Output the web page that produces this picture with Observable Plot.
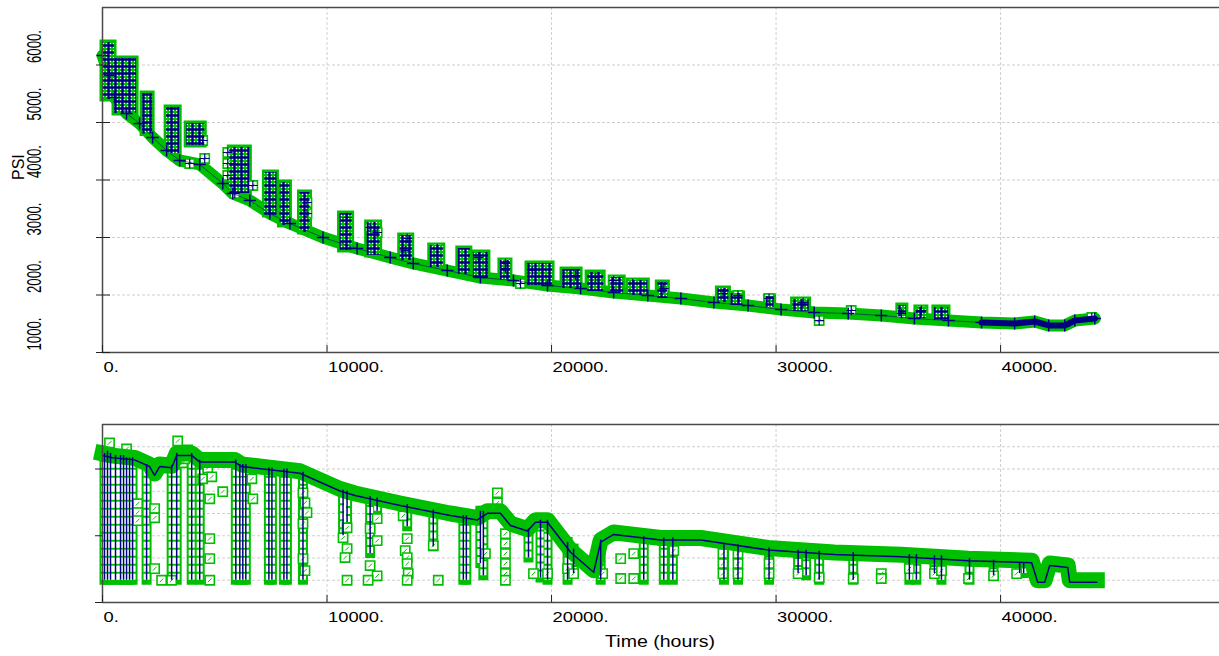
<!DOCTYPE html>
<html>
<head>
<meta charset="utf-8">
<script src="https://cdn.jsdelivr.net/npm/d3@7"></script>
<script src="https://cdn.jsdelivr.net/npm/@observablehq/plot@0.6"></script>
<style>
html, body { margin: 0; padding: 0; background: #fff; overflow: hidden; }
body { width: 1219px; height: 656px; position: relative; font-family: "Liberation Sans", Arial, sans-serif; }
#top, #bottom { line-height: 0; }
#top svg, #bottom svg { display: block; }
#xlabel { position: absolute; left: 102px; width: 1117px; top: 632px; text-align: center; font-size: 16px; line-height: 20px; color: #000; }
#xlabel span { display: inline-block; transform: scaleX(1.22); }
</style>
</head>
<body>
<svg width="0" height="0" style="position:absolute">
  <defs>
    <pattern id="spk" width="7" height="7" patternUnits="userSpaceOnUse">
      <rect width="7" height="7" fill="#ffffff"/>
      <rect x="0.5" y="0.5" width="6" height="6" fill="none" stroke="#00bf00" stroke-width="1"/>
      <path d="M3.5 0V7M0 3.5H7" stroke="#000080" stroke-width="2.4"/>
    </pattern>
  </defs>
</svg>
<div id="top"></div>
<div id="bottom"></div>
<div id="xlabel"><span>Time (hours)</span></div>
<script>
// ---------- axes / ticks ----------
const xDomain = [0, 49750];
const xTicks = [0, 10000, 20000, 30000, 40000];
const yDomainTop = [1000, 7000];
const yTicksTop = [1000, 2000, 3000, 4000, 5000, 6000];
const yGridTop = [2000, 3000, 4000, 5000, 6000];
const yDomainBot = [0, 8];
const yTicksBot = [0, 3, 6];
const yGridBot = [1, 2, 3, 4, 5, 6, 7];

// ---------- top panel: pressure trend ----------
const trendHours = [0,312,536,1071,1652,2232,2857,3437,4330,5357,5804,6563,7455,8348,9821,11339,12813,13839,15357,16830,18304,19821,21295,22768,24286,25759,27232,28750,30223,31696,33214,34687,36161,37679,39152,40625,41518,42143,42857,43304,44196];
const trendPsi = [6165,5817,5435,5157,4983,4739,4513,4339,4270,3939,3765,3643,3417,3243,3000,2809,2652,2548,2426,2304,2252,2165,2113,2043,1991,1939,1870,1817,1748,1696,1678,1643,1591,1556,1522,1504,1539,1470,1470,1556,1591];

// shut-in build-up clusters (vertical spikes)
const spikeStart = [0,536,1786,2857,3750,5670,7232,7902,8795,10580,11786,13259,14598,15848,16518,17723,18929,20491,21607,22634,23437,24732,27411,27991,29554,30759,35446,36250,37054];
const spikeEnd = [536,1518,2232,3437,4554,6563,7768,8348,9241,11116,12366,13795,15179,16384,17188,18170,20045,21295,22321,23214,24286,25179,27902,28527,29911,31473,35804,36696,37679];
const spikeTop = [6391,6113,5504,5261,4983,4565,4130,3957,3783,3417,3261,3035,2861,2809,2739,2600,2548,2443,2391,2304,2252,2217,2113,2026,1974,1922,1817,1783,1783];
const spikeBase = [5400,5157,4800,4461,4600,3765,3383,3209,3087,2774,2687,2600,2478,2357,2287,2260,2165,2113,2060,2026,1991,1939,1870,1817,1783,1713,1620,1590,1560];

// scattered (loose) measurement squares, top panel
const sqTopHours = [3884,5580,5580,5580,5893,6696,4553,4464,9107,9107,10893,11920,12232,13571,13482,14911,16741,17946,17946,19152,18616,21071,21964,22768,23616,24999,27634,28304,29688,31205,31920,33348,35580,36473,44062];
const sqTopPsi = [4287,4478,4287,4078,3765,3904,4374,4687,3609,3417,3348,3174,3087,2983,2774,2809,2652,2548,2461,2426,2200,2339,2304,2252,2200,2113,2026,1991,1939,1870,1556,1730,1678,1730,1609];

// ---------- bottom panel ----------
const envHours = [0,446,1429,2098,2321,2545,3080,3304,3973,4330,5893,6205,7545,8795,10580,11250,13259,15491,16696,17143,17723,18170,18929,19286,19821,20848,21875,22188,22768,24866,26652,29643,32589,35580,38571,41384,41652,41964,42187,42991,43080,44286];
const envLevel = [6.7,6.6,6.5,6.2,5.8,6.2,6.15,6.7,6.7,6.4,6.4,6.2,6.05,5.9,5.1,4.9,4.45,4.0,3.8,4.1,4.1,3.55,3.3,3.7,3.7,2.35,1.45,2.8,3.15,2.9,2.9,2.45,2.25,2.15,1.97,1.88,1.0,1.0,1.75,1.66,1.0,1.0];

const dropHours = [89,223,357,580,804,938,1071,1205,1339,1964,3080,3304,3973,4330,5938,6116,6250,6384,7411,7545,8080,8214,8929,10714,10893,11920,12232,13571,14732,16071,16205,16830,16964,18973,19509,19821,20714,20982,22188,24107,25000,25402,27679,28304,29688,30982,31339,31920,33437,35937,36250,37054,37366,38616,39688,40848,41027];
const dropLow = [1,1,1,1,1,1,1,1,1,1, 1,1,1,1,1,1,1,1,1,1, 1,1,1,3.0,3.6,2.2,4.1,3.4,2.5,1, 1,1.75,1.2,2.0,1.1,1,1,1.3,1,1, 1,1,1,1,1,1.3,1.2,1,1,1, 1,1.3,1,1,1.2,1.3,1.3];
const dropHigh = [6.7,6.8,6.7,6.6,6.6,6.6,6.5,6.5,6.5,6.2, 6.15,6.7,6.7,6.4,6.4,6.2,6.2,6.2,6.05,6.05, 6.0,6.0,5.85,5.05,5.0,4.75,4.7,4.4,4.15,3.9, 3.9,4.1,4.1,3.3,3.7,3.7,2.7,2.4,2.8,2.95, 2.9,2.9,2.6,2.6,2.45,2.35,2.35,2.3,2.25,2.15, 2.15,2.1,2.1,1.97,1.9,1.75,1.75];

const sqBotHours = [312,1071,3348,3794,1562,1562,1562,2321,2321,2321,2634,3080,3571,3660,4464,4687,4866,4777,5357,4777,4777,4777,6652,6696,8929,9018,9107,8929,8929,9018,10893,10714,10893,10804,10893,12232,11920,12232,11920,12232,11830,13393,13571,13482,13571,13571,13616,13571,14732,14955,17589,17589,17054,17946,17946,17946,17946,17946,17946,19196,19821,20714,20982,22277,23080,23080,23661,23661,25446,27634,27634,27634,28304,28304,28304,29688,29688,30982,31920,33437,34687,34687,35937,37054,37366,38571,39688,40714];
const sqBotLevel = [7.17,6.9,7.26,6.86,4.44,4.04,3.68,4.22,3.81,1.52,1.0,1.0,6.28,6.46,5.56,6.05,5.65,4.66,4.98,2.87,1.97,1.0,5.56,4.66,4.93,4.48,4.04,3.54,1.97,1.43,3.36,2.91,2.42,2.02,1.0,3.77,3.32,2.78,1.66,1.2,1.0,3.9,2.87,2.33,2.02,1.75,1.3,1.0,2.56,1.0,4.93,4.48,2.2,3.09,2.65,2.2,1.75,1.3,1.0,1.3,1.3,1.52,1.3,1.3,1.97,1.08,1.08,2.2,2.33,2.2,1.75,1.3,2.2,1.75,1.3,1.75,1.3,1.3,1.12,1.08,1.3,1.08,1.52,1.3,1.43,1.08,1.2,1.3];

// ---------- tables ----------
const trend = trendHours.map((h, i) => ({hours: h, psi: trendPsi[i]}));
const spikes = spikeStart.map((s, i) => ({start: s, end: spikeEnd[i], top: spikeTop[i], base: spikeBase[i]}));
const sqTop = sqTopHours.map((h, i) => ({hours: h, psi: sqTopPsi[i]}));
const env = envHours.map((h, i) => ({hours: h, level: envLevel[i]}));
const drops = dropHours.map((h, i) => ({hours: h, low: dropLow[i], high: dropHigh[i]}));
const sqBot = sqBotHours.map((h, i) => ({hours: h, level: sqBotLevel[i]}));

const GREEN = "#00bf00";
const NAVY = "#000080";
const AXIS = "#4a4a4a";
const GRID = "#cfcfcf";
const FONT = "'Liberation Sans', Arial, sans-serif";

const diag = {draw(ctx, size) { const s = Math.sqrt(size) * 0.2; ctx.moveTo(-s, s); ctx.lineTo(s, -s); }};
const fmt = d => d + ".";

function squares(data, x, y) {
  return [
    Plot.dot(data, {x, y, symbol: "square", r: 5.2, fill: "white", stroke: GREEN, strokeWidth: 1.6}),
    Plot.dot(data, {x, y, symbol: diag, r: 5.2, stroke: GREEN, strokeWidth: 1})
  ];
}

const topPlot = Plot.plot({
  width: 1219, height: 385,
  marginLeft: 102, marginRight: 0, marginTop: 7, marginBottom: 33,
  style: {fontFamily: FONT, fontSize: "15px", color: "#000", background: "white", overflow: "visible"},
  x: {domain: xDomain},
  y: {domain: yDomainTop},
  marks: [
    Plot.gridX(xTicks.filter(d => d > 0), {stroke: GRID, strokeOpacity: 1, strokeDasharray: "3,2"}),
    Plot.gridY(yGridTop, {stroke: GRID, strokeOpacity: 1, strokeDasharray: "3,2"}),
    Plot.rect(spikes, {x1: "start", x2: "end", y1: "base", y2: "top", fill: GREEN, inset: -2.5}),
    Plot.line(trend, {x: "hours", y: "psi", stroke: GREEN, strokeWidth: 12, strokeLinecap: "round", strokeLinejoin: "round"}),
    ...squares(sqTop, "hours", "psi"),
    Plot.rect(spikes, {x1: "start", x2: "end", y1: "base", y2: "top", fill: "url(#spk)", inset: 0}),
    Plot.line(trend, {x: "hours", y: "psi", stroke: NAVY, strokeWidth: 1, strokeOpacity: 0.55}),
    Plot.dot(trend, {x: "hours", y: "psi", symbol: "plus", r: 4, stroke: NAVY, strokeWidth: 1.5}),
    Plot.dot(sqTop, {x: "hours", y: "psi", symbol: "plus", r: 3.2, stroke: NAVY, strokeWidth: 1.2}),
    Plot.line(trend.filter(d => d.hours >= 39000), {x: "hours", y: "psi", stroke: NAVY, strokeWidth: 6, strokeLinecap: "round"}),
    Plot.ruleY(yDomainTop, {stroke: AXIS, strokeWidth: 1.5}),
    Plot.ruleX([xDomain[0]], {stroke: AXIS, strokeWidth: 1.5}),
    Plot.axisX(xTicks, {tickSize: 7, dy: -7, fill: "none", stroke: "#222", label: null}),
    Plot.axisX(xTicks, {tickSize: 0, tickPadding: 9, textAnchor: "start", dx: 1, tickFormat: fmt, fontSize: 15, label: null}),
    Plot.axisY(yTicksTop, {tickSize: 14, dx: 8, fill: "none", stroke: "#222", label: null}),
    Plot.text(yTicksTop, {y: d => d, text: fmt, frameAnchor: "left", dx: -68, dy: -2, rotate: -90, textAnchor: "start", fontSize: 20, fill: "#000"}),
    Plot.text(["PSI"], {text: d => d, frameAnchor: "left", dx: -84, rotate: -90, fontSize: 16})
  ]
});
document.getElementById("top").append(topPlot);

const botPlot = Plot.plot({
  width: 1219, height: 245,
  marginLeft: 102, marginRight: 0, marginTop: 39, marginBottom: 28,
  style: {fontFamily: FONT, fontSize: "15px", color: "#000", background: "white", overflow: "visible"},
  x: {domain: xDomain},
  y: {domain: yDomainBot},
  marks: [
    Plot.gridX(xTicks.filter(d => d > 0), {stroke: GRID, strokeOpacity: 1, strokeDasharray: "3,2"}),
    Plot.gridY(yGridBot, {stroke: GRID, strokeOpacity: 1, strokeDasharray: "3,2"}),
    Plot.ruleX(drops, {x: "hours", y1: "low", y2: "high", stroke: GREEN, strokeWidth: 10, strokeLinecap: "square"}),
    Plot.ruleX(drops, {x: "hours", y1: "low", y2: "high", stroke: "white", strokeWidth: 6, strokeDasharray: "6,2"}),
    ...squares(sqBot, "hours", "level"),
    Plot.line(env, {x: "hours", y: "level", stroke: GREEN, strokeWidth: 16, strokeLinejoin: "round", strokeLinecap: "square"}),
    Plot.ruleX(drops, {x: "hours", y1: "low", y2: "high", stroke: NAVY, strokeWidth: 1.5}),
    Plot.line(env, {x: "hours", y: "level", stroke: NAVY, strokeWidth: 1.5, dy: 2}),
    Plot.ruleY(yDomainBot, {stroke: AXIS, strokeWidth: 1.5}),
    Plot.ruleX([xDomain[0]], {stroke: AXIS, strokeWidth: 1.5}),
    Plot.axisX(xTicks, {tickSize: 7, dy: -7, fill: "none", stroke: "#222", label: null}),
    Plot.axisX(xTicks, {tickSize: 0, tickPadding: 9, textAnchor: "start", dx: 1, tickFormat: fmt, fontSize: 15, label: null}),
    Plot.axisY(yTicksBot, {tickSize: 7, fill: "none", stroke: "#222", label: null})
  ]
});
document.getElementById("bottom").append(botPlot);

// the reference glyphs are anisotropically scaled; emulate it
function fit(t, factor) {
  const w = t.getComputedTextLength();
  if (w > 0) {
    t.setAttribute("textLength", (w * factor).toFixed(1));
    t.setAttribute("lengthAdjust", "spacingAndGlyphs");
  }
}
[topPlot, botPlot].forEach(svg =>
  svg.querySelectorAll('g[aria-label="x-axis tick label"] text').forEach(t => fit(t, 1.22)));
topPlot.querySelectorAll("text").forEach(t => {
  const tr = t.getAttribute("transform") || "";
  if (/rotate/.test(tr) && /^\d+\.$/.test(t.textContent.trim())) {
    t.setAttribute("transform", tr + " scale(0.66,1)");
  }
});
</script>
</body>
</html>
